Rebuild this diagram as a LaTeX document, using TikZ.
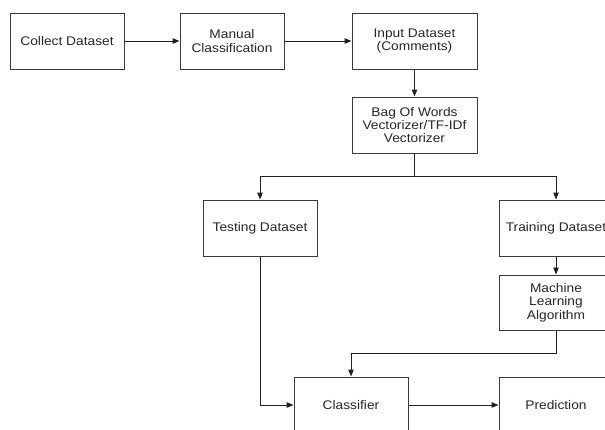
\documentclass[tikz,border=0pt]{standalone}
\usepackage{fontspec}
\setmainfont[FakeStretch=1.1]{Liberation Sans}
\usetikzlibrary{arrows.meta}
\definecolor{boxline}{HTML}{3A3A3A}
\definecolor{arrowline}{HTML}{202020}
\tikzset{
  box/.style={draw=boxline, line width=1pt, minimum width=114pt, minimum height=56pt,
    align=center, inner sep=2pt, font=\fontsize{12.5}{13.4}\selectfont, text=black!85},
  arr/.style={draw=arrowline, line width=1pt, -{Triangle[length=7pt,width=5.5pt]}}
}
\begin{document}
\begin{tikzpicture}[x=1pt,y=1pt]
   \useasboundingbox (0,0) rectangle (605,-429);
   \clip (0,0) rectangle (605,-429);
   \node[box] (collect) at (67,-41) {Collect Dataset};
   \node[box, minimum width=104pt] (manual) at (232,-41) {Manual\\Classification};
   \node[box, minimum width=125pt] (input) at (414.5,-41) {Input Dataset\\(Comments)};
   \node[box, minimum width=125pt] (bag) at (414.5,-125) {Bag Of Words\\Vectorizer/TF-IDf\\Vectorizer};
   \node[box] (testing) at (260,-228) {Testing Dataset};
   \node[box] (training) at (556,-228) {Training Dataset};
   \node[box, minimum height=55pt] (ml) at (556,-302.5) {Machine\\Learning\\Algorithm};
   \node[box] (classifier) at (351,-405) {Classifier};
   \node[box] (prediction) at (556,-405) {Prediction};
   \draw[arr] (collect) -- (manual);
   \draw[arr] (manual) -- (input);
   \draw[arr] (input) -- (bag);
   \draw[arr] (bag.south) -- ++(0,-23) -| (testing.north);
   \draw[arr] (bag.south) -- ++(0,-23) -| (training.north);
   \draw[arr] (training) -- (ml);
   \draw[arr] (ml.south) -- ++(0,-23) -| (classifier.north);
   \draw[arr] (testing.south) |- (classifier.west);
   \draw[arr] (classifier) -- (prediction);
\end{tikzpicture}
\end{document}
